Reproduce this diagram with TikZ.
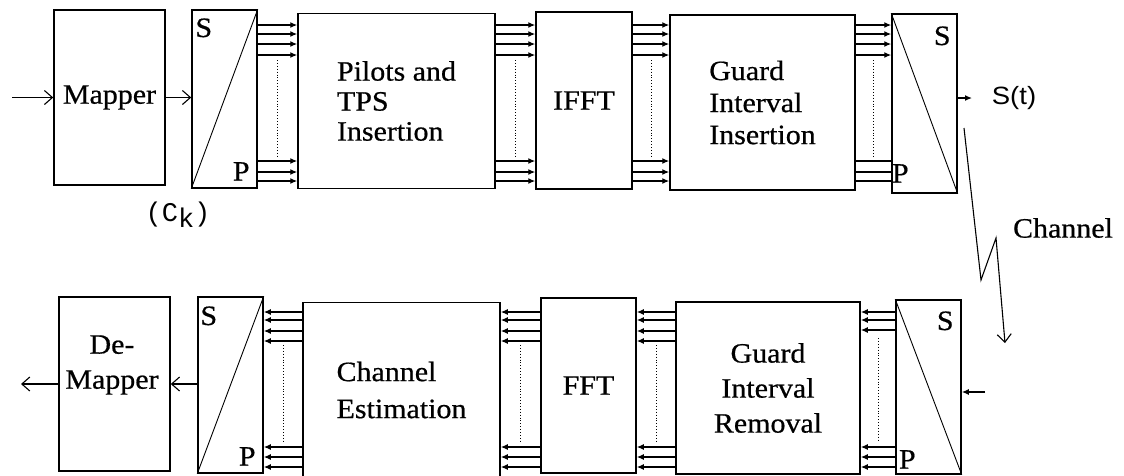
\documentclass[tikz,border=0pt]{standalone}
\usepackage{fontspec}
\setmainfont{Liberation Serif}[FakeStretch=1.07,FakeBold=0.6]
\newfontfamily\sansst{Liberation Sans}[FakeStretch=1.1]
\newfontfamily\monock{Liberation Mono}
\usetikzlibrary{arrows.meta}

\begin{document}
\begin{tikzpicture}[x=1pt,y=-1pt,
  blk/.style={draw,line width=1.5pt,inner sep=0pt,align=center,font=\fontsize{28}{30}\selectfont},
  bus/.style={line width=1.3pt,-{Latex[length=7pt,width=6pt]}},
  bare/.style={line width=1.3pt},
  dots/.style={line width=0.9pt,dotted},
  diag/.style={line width=0.9pt},
  lbl/.style={font=\fontsize{28}{30}\selectfont,inner sep=2pt},
  opn/.style={line width=1.1pt,-{Straight Barb[length=8pt,width=14pt]}},
  sml/.style={line width=1.3pt,-{Latex[length=7pt,width=6pt]}}]

  \useasboundingbox (0,0) rectangle (1124,475);
  \fill[white] (0,0) rectangle (1124,475);

  % transmitter chain
  \node[blk,minimum width=111pt,minimum height=175pt] (map) at (109.5,97.5) {Mapper};
  \node[blk,minimum width=65pt,minimum height=178pt] (sp1) at (224.5,99) {};
  \node[blk,minimum width=197pt,minimum height=175pt,align=left] (pil) at (396.5,101) {Pilots and\\TPS\\Insertion};
  \node[blk,minimum width=96pt,minimum height=177pt] (ifft) at (584,100.5) {IFFT};
  \node[blk,minimum width=185pt,minimum height=175pt,align=left,font=\fontsize{28}{32}\selectfont] (gii) at (762.5,102.5) {Guard\\Interval\\Insertion};
  \node[blk,minimum width=65pt,minimum height=179pt] (ps1) at (924.5,103.5) {};

  % S/P and P/S converters
  \draw[diag] (sp1.south west) -- (sp1.north east);
  \node[lbl,anchor=north west] (sp1s) at ([shift={(2,7)}]sp1.north west) {S};
  \node[lbl,anchor=south east] (sp1p) at ([shift={(-6,-6)}]sp1.south east) {P};
  \draw[diag] (ps1.north west) -- (ps1.south east);
  \node[lbl,anchor=north east] (ps1s) at ([shift={(-5,11)}]ps1.north east) {S};
  \node[lbl,anchor=south west] (ps1p) at ([shift={(-1.5,-9)}]ps1.south west) {P};

  % input and mapper output
  \coordinate (txin) at (12,97.5);
  \draw[opn] (txin) -- (map.west);
  \draw[opn] (map.east) -- (sp1.west |- map.east);
  \node[font=\monock\fontsize{27}{30}\selectfont] (ck) at (178,215) {(C\raisebox{-.45ex}{k})};

  % parallel buses, top row
  \foreach \a/\b in {sp1/pil,pil/ifft,ifft/gii}{
    \foreach \yy in {25,34,44,55,161,172,181}
      \draw[bus] (\a.east |- 0,\yy) -- (\b.west |- 0,\yy);
    \path (\a.east) -- (\b.west) coordinate[pos=.5] (mid);
    \draw[dots] (mid |- 0,60) -- (mid |- 0,157);
  }
  \foreach \yy in {25,34,44,55}
    \draw[bus] (gii.east |- 0,\yy) -- (ps1.west |- 0,\yy);
  \foreach \yy in {161,172,181}
    \draw[bare] (gii.east |- 0,\yy) -- (ps1.west |- 0,\yy);
  \path (gii.east) -- (ps1.west) coordinate[pos=.5] (mid);
  \draw[dots] (mid |- 0,60) -- (mid |- 0,157);

  % transmitted signal
  \node[font=\sansst\fontsize{25}{28}\selectfont] (st) at (1014,98) {S(t)};
  \coordinate (stend) at (972,98);
  \draw[sml] (ps1.east |- stend) -- (stend);

  % channel
  \node[lbl] (chl) at (1063,228) {Channel};
  \coordinate (ch0) at (964,128);
  \coordinate (ch1) at (981,280);
  \coordinate (ch2) at (996,238);
  \coordinate (ch3) at (1005,343);
  \draw[opn] (ch0) -- (ch1) -- (ch2) -- (ch3);

  % receiver chain
  \node[blk,minimum width=111pt,minimum height=174pt] (dmap) at (114.5,384) {};
  \node[lbl,align=center,font=\fontsize{28}{35}\selectfont] (dmaptxt) at (112,365) {De-\\Mapper};
  \node[blk,minimum width=65pt,minimum height=176pt] (sp2) at (230.5,385) {};
  \node[blk,minimum width=197pt,minimum height=175pt,align=left,font=\fontsize{28}{37}\selectfont] (ce) at (401.5,390) {Channel\\Estimation};
  \node[blk,minimum width=95pt,minimum height=175pt] (fft) at (588.5,385.5) {FFT};
  \node[blk,minimum width=184pt,minimum height=172pt,font=\fontsize{28}{35}\selectfont] (gir) at (768,388) {Guard\\Interval\\Removal};
  \node[blk,minimum width=65pt,minimum height=174pt] (ps2) at (928.5,387) {};

  \draw[diag] (sp2.south west) -- (sp2.north east);
  \node[lbl,anchor=north west] (sp2s) at ([shift={(1,8)}]sp2.north west) {S};
  \node[lbl,anchor=south east] (sp2p) at ([shift={(-6,-6)}]sp2.south east) {P};
  \draw[diag] (ps2.north west) -- (ps2.south east);
  \node[lbl,anchor=north east] (ps2s) at ([shift={(-6,10)}]ps2.north east) {S};
  \node[lbl,anchor=south west] (ps2p) at ([shift={(1.5,-4)}]ps2.south west) {P};

  % received signal and de-mapper output
  \coordinate (rxin) at (985,392);
  \draw[sml] (rxin) -- (ps2.east |- rxin);
  \draw[opn] (sp2.west |- dmap.east) -- (dmap.east);
  \coordinate (rxout) at (21,384);
  \draw[opn] (dmap.west) -- (rxout);

  % parallel buses, bottom row
  \foreach \a/\b in {sp2/ce,ce/fft,fft/gir}{
    \foreach \yy in {312,320,331,341,447,457,467}
      \draw[bus] (\b.west |- 0,\yy) -- (\a.east |- 0,\yy);
    \path (\a.east) -- (\b.west) coordinate[pos=.5] (mid);
    \draw[dots] (mid |- 0,345) -- (mid |- 0,443);
  }
  \foreach \yy in {312,320,330,447,457,467}
    \draw[bus] (ps2.west |- 0,\yy) -- (gir.east |- 0,\yy);
  \path (gir.east) -- (ps2.west) coordinate[pos=.5] (mid);
  \draw[dots] (mid |- 0,338) -- (mid |- 0,440);

\end{tikzpicture}
\end{document}
